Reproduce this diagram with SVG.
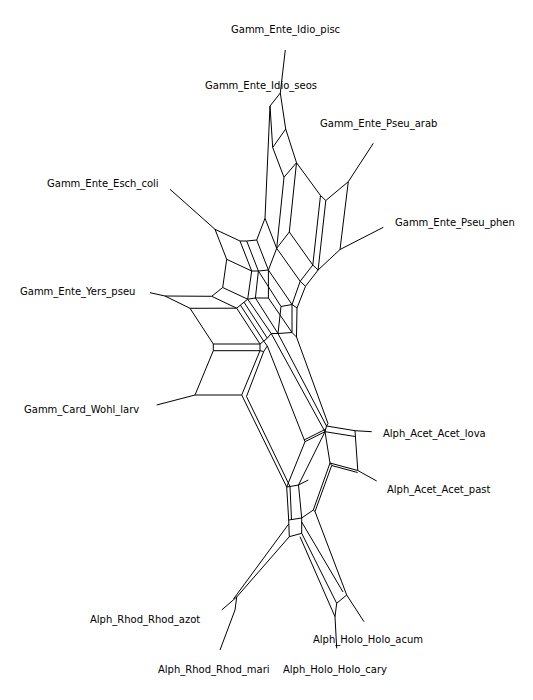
<svg xmlns="http://www.w3.org/2000/svg" width="533" height="700" viewBox="0 0 533 700">
<style>
.e{fill:none;stroke:#000;stroke-width:1}
.t{font-family:"DejaVu Sans",Verdana,sans-serif;font-size:10px;fill:#000}
</style>
<rect width="533" height="700" fill="#fff"/>
<g id="edges" class="e">
<!-- top -->
<path d="M285.3,50 L280.3,93 L270,106 L272.7,147.5 L284,177.3 L296.5,162.7 L285.7,129 L280.3,93"/>
<path d="M285.7,129 L272.7,147.5"/>
<path d="M270,106 L265,218.3"/>
<path d="M284,177.3 L276.7,248.3"/>
<path d="M296.5,162.7 L289.3,232"/>
<path d="M296.5,162.7 L320.5,195.5 L325.8,200.5 L348.3,181.7 L373.3,143.3"/>
<path d="M348.3,181.7 L340,249.5 L383.3,227.3"/>
<path d="M320.5,195.5 L312.8,265 L318.1,270 L325.8,200.5"/>
<path d="M318.1,270 L340,249.5"/>
<path d="M289.3,232 L312.8,265 L300.2,281.3 L276.7,248.3 L289.3,232"/>
<path d="M300.2,281.3 L305.5,286.3 L318.1,270"/>
<!-- upper-left grid -->
<path d="M170,189.3 L215,229.3 L240,241 L246.7,241 L256.7,240 L265,218.3 L276.7,248.3"/>
<path d="M215,229.3 L226.7,259.3 L251.7,271 L240,241"/>
<path d="M246.7,241 L258.4,271"/>
<path d="M256.7,240 L268.4,270 L276.7,248.3"/>
<path d="M251.7,271 L258.4,271 L268.4,270"/>
<path d="M226.7,259.3 L222.7,287.5 L247.7,299.2 L251.7,271"/>
<path d="M258.4,271 L255.4,298 L247.7,299.2"/>
<path d="M268.4,270 L268.4,298 L255.4,298"/>
<path d="M222.7,287.5 L211.7,296.3 L165,296 L150,292.7"/>
<path d="M211.7,296.3 L236.7,308.2 L240.4,305.1 L244,302.2 L247.7,299.2"/>
<path d="M165,296 L190,308.3 L236.7,308.2"/>
<path d="M190,308.3 L213.3,344 L213.3,350.7 L195,395 L156.7,405"/>
<path d="M236.7,308.2 L260,344"/>
<path d="M240.4,305.1 L263.7,341.1"/>
<path d="M244,302.2 L267.3,338.2"/>
<path d="M247.7,299.2 L271.2,333.5"/>
<path d="M213.3,344 L260,344 L263.7,341.1 L267.3,338.2 L271.2,333.5 L278,333.5 L292,332.5 L296.5,337"/>
<path d="M213.3,350.7 L260,350.7 L260,344"/>
<path d="M195,395 L241.7,395 L260,350.7"/>
<path d="M255.4,298 L278,333.5"/>
<path d="M268.4,298 L292,332.5"/>
<path d="M258.4,271 L281,306.5 L278,333.5"/>
<path d="M268.4,270 L292,304.5 L292,332.5"/>
<path d="M281,306.5 L292,304.5 L297,308 L296.5,337"/>
<path d="M300.2,281.3 L292,304.5"/>
<path d="M305.5,286.3 L297,308"/>
<!-- central bands -->
<path d="M263.7,351.5 L246.5,396.5 L290,486.5"/>
<path d="M241.7,395 L286.7,487"/>
<path d="M260,350.7 L263.7,351.5 L267.3,346"/>
<path d="M263.7,341.1 L267.3,346 L305,441.7"/>
<path d="M271.2,333.5 L325,431.7"/>
<path d="M278,333.5 L326.5,426"/>
<path d="M296.5,337 L328,423.5"/>
<!-- acet -->
<path d="M328,423.5 L326.5,426 L325,431.7"/>
<path d="M326.5,426 L355,430.7 L371.7,431.7"/>
<path d="M325,431.7 L355.3,436.5"/>
<path d="M355,430.7 L357.8,470.5 L376.7,481"/>
<path d="M325,431.7 L330,463 L357.8,470.5"/>
<path d="M330,463 L331.7,465.5 L357.6,472.5"/>
<!-- lower hexagon corner -->
<path d="M325,431.7 L305,441.7 L286.7,487"/>
<path d="M326,429 L304,440"/>
<path d="M325,431.7 L298.5,485"/>
<path d="M286.7,487 L290,486.5 L298.5,485 L308.3,480"/>
<path d="M286.7,487 L288.7,520"/>
<path d="M290,486.5 L291.5,520"/>
<path d="M298.5,485 L301.7,518"/>
<path d="M288.7,520 L301.7,518 L301.7,533.3 L289.3,536.7 L288.7,520"/>
<path d="M301.7,518 L313.3,510 L330,463"/>
<path d="M313.3,510 L315,511.5 L331.7,465.5"/>
<!-- rhod -->
<path d="M289.3,536.7 L236.7,597 L235,610 L220,650"/>
<path d="M288.7,524 L233.5,599"/>
<path d="M236.7,597 L221.7,610"/>
<!-- holo -->
<path d="M301.7,533.3 L336.7,603.3 L346.7,595 L364,621.7"/>
<path d="M315,511.5 L346.7,595"/>
<path d="M301.7,522 L343,592"/>
<path d="M336.7,603.3 L335,616.7 L336.7,648.3"/>
<path d="M300,536.7 L335,616.7"/>
</g>
<g id="labels" class="t">
<text x="231" y="33">Gamm_Ente_Idio_pisc</text>
<text x="205" y="89">Gamm_Ente_Idio_seos</text>
<text x="320" y="127">Gamm_Ente_Pseu_arab</text>
<text x="47" y="187">Gamm_Ente_Esch_coli</text>
<text x="395" y="226">Gamm_Ente_Pseu_phen</text>
<text x="20" y="295">Gamm_Ente_Yers_pseu</text>
<text x="24" y="413">Gamm_Card_Wohl_larv</text>
<text x="383" y="437">Alph_Acet_Acet_lova</text>
<text x="387" y="493">Alph_Acet_Acet_past</text>
<text x="90" y="623">Alph_Rhod_Rhod_azot</text>
<text x="313" y="643">Alph_Holo_Holo_acum</text>
<text x="158" y="673">Alph_Rhod_Rhod_mari</text>
<text x="283" y="673">Alph_Holo_Holo_cary</text>
</g>
</svg>
